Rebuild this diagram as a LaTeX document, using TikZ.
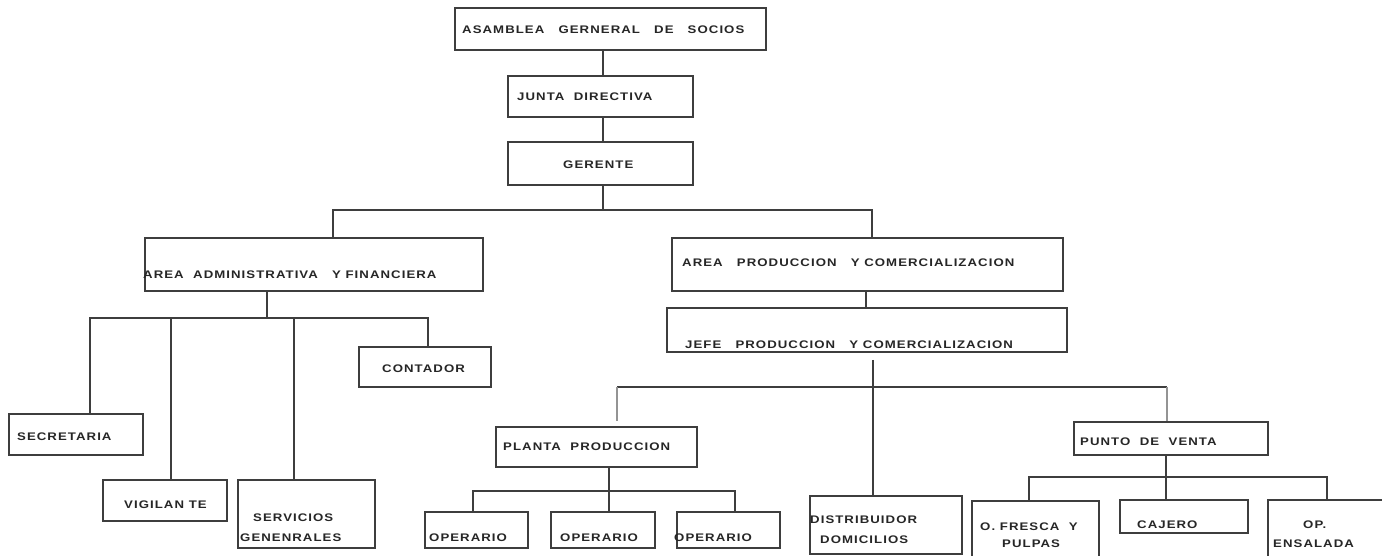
\documentclass[tikz,border=0pt]{standalone}
\usepackage{graphicx}
\usepackage{fontspec}
\setmainfont{Liberation Sans}
\newfontfamily\cajafont[LetterSpace=8]{Liberation Sans}
\newcommand{\ancho}[1]{\scalebox{1.2}[1]{#1}}
\definecolor{linea}{RGB}{62,62,62}
\tikzset{
	caja/.style={draw=linea, line width=1.6pt, rectangle, inner sep=0pt},
	rotulo/.style={anchor=base west, inner sep=0pt, text=black!85, font=\cajafont\bfseries\fontsize{11}{12}\selectfont},
	rama/.style={draw=linea, line width=1.6pt},
	ramagris/.style={draw=black!42, line width=1.6pt}
}

\begin{document}
\begin{tikzpicture}[x=1pt, y=-1pt]
			\useasboundingbox (0,0) rectangle (1382,556);
			\clip (0,0) rectangle (1382,556);
			% cajas
			\node[caja, minimum width=311pt, minimum height=42pt] (asamblea) at (610.5,29) {};
			\node[caja, minimum width=185pt, minimum height=41pt] (junta) at (600.5,96.5) {};
			\node[caja, minimum width=185pt, minimum height=43pt] (gerente) at (600.5,163.5) {};
			\node[caja, minimum width=338pt, minimum height=53pt] (administrativa) at (314,264.5) {};
			\node[caja, minimum width=391pt, minimum height=53pt] (produccion) at (867.5,264.5) {};
			\node[caja, minimum width=400pt, minimum height=44pt] (jefe) at (867,330) {};
			\node[caja, minimum width=132pt, minimum height=40pt] (contador) at (425,367) {};
			\node[caja, minimum width=134pt, minimum height=41pt] (secretaria) at (76,434.5) {};
			\node[caja, minimum width=124pt, minimum height=41pt] (vigilante) at (165,500.5) {};
			\node[caja, minimum width=137pt, minimum height=68pt] (servicios) at (306.5,514) {};
			\node[caja, minimum width=201pt, minimum height=40pt] (planta) at (596.5,447) {};
			\node[caja, minimum width=103pt, minimum height=36pt] (operario1) at (476.5,530) {};
			\node[caja, minimum width=104pt, minimum height=36pt] (operario2) at (603,530) {};
			\node[caja, minimum width=103pt, minimum height=36pt] (operario3) at (728.5,530) {};
			\node[caja, minimum width=152pt, minimum height=58pt] (distribuidor) at (886,525) {};
			\node[caja, minimum width=194pt, minimum height=33pt] (punto) at (1171,438.5) {};
			\node[caja, minimum width=127pt, minimum height=71pt] (fresca) at (1035.5,536.5) {};
			\node[caja, minimum width=128pt, minimum height=33pt] (cajero) at (1184,516.5) {};
			\node[caja, minimum width=132pt, minimum height=72pt] (ensalada) at (1334,536) {};
			% textos
			\node[rotulo] (tasamblea) at (462,34) {\ancho{ASAMBLEA\ \ \ GERNERAL\ \ \ DE\ \ \ SOCIOS}};
			\node[rotulo] (tjunta) at (517,101) {\ancho{JUNTA\ \ DIRECTIVA}};
			\node[rotulo] (tgerente) at (563,169) {\ancho{GERENTE}};
			\node[rotulo] (tadministrativa) at (143,279) {\ancho{AREA\ \ ADMINISTRATIVA\ \ \ Y FINANCIERA}};
			\node[rotulo] (tproduccion) at (682,267) {\ancho{AREA\ \ \ PRODUCCION\ \ \ Y COMERCIALIZACION}};
			\node[rotulo] (tjefe) at (685,348) {\ancho{JEFE\ \ \ PRODUCCION\ \ \ Y COMERCIALIZACION}};
			\node[rotulo] (tcontador) at (382,372) {\ancho{CONTADOR}};
			\node[rotulo] (tsecretaria) at (17,440) {\ancho{SECRETARIA}};
			\node[rotulo] (tvigilante) at (124,508) {\ancho{VIGILAN TE}};
			\node[rotulo] (tservicios) at (253,521) {\ancho{SERVICIOS}};
			\node[rotulo] (tgenerales) at (240,541) {\ancho{GENENRALES}};
			\node[rotulo] (tplanta) at (503,450) {\ancho{PLANTA\ \ PRODUCCION}};
			\node[rotulo] (toperario1) at (429,541) {\ancho{OPERARIO}};
			\node[rotulo] (toperario2) at (560,541) {\ancho{OPERARIO}};
			\node[rotulo] (toperario3) at (674,541) {\ancho{OPERARIO}};
			\node[rotulo] (tdistribuidor) at (810,523) {\ancho{DISTRIBUIDOR}};
			\node[rotulo] (tdomicilios) at (820,543) {\ancho{DOMICILIOS}};
			\node[rotulo] (tpunto) at (1080,445) {\ancho{PUNTO\ \ DE\ \ VENTA}};
			\node[rotulo] (tfresca) at (980,530) {\ancho{O. FRESCA\ \ Y}};
			\node[rotulo] (tpulpas) at (1002,547) {\ancho{PULPAS}};
			\node[rotulo] (tcajero) at (1137,528) {\ancho{CAJERO}};
			\node[rotulo] (top) at (1303,528) {\ancho{OP.}};
			\node[rotulo] (tensalada) at (1273,547) {\ancho{ENSALADA}};
			% ramas
			\coordinate (b1) at (603,210);
			\coordinate (b1i) at (333,210);
			\coordinate (b1d) at (872,210);
			\coordinate (b2) at (267,318);
			\coordinate (b2i) at (90,318);
			\coordinate (b2v) at (171,318);
			\coordinate (b2s) at (294,318);
			\coordinate (b2d) at (428,318);
			\coordinate (b3) at (866,300);
			\coordinate (b4) at (873,387);
			\coordinate (b4i) at (617,387);
			\coordinate (b4d) at (1167,387);
			\coordinate (b5) at (609,491);
			\coordinate (b5i) at (473,491);
			\coordinate (b5d) at (735,491);
			\coordinate (b6) at (1166,477);
			\coordinate (b6i) at (1029,477);
			\coordinate (b6d) at (1327,477);
			\draw[rama] (asamblea.south -| b1) -- (junta.north -| b1);
			\draw[rama] (junta.south -| b1) -- (gerente.north -| b1);
			\draw[rama] (gerente.south -| b1) -- (b1);
			\draw[rama] (administrativa.north -| b1i) |- (b1d) -- (produccion.north -| b1d);
			\draw[rama] (administrativa.south -| b2) -- (b2);
			\draw[rama] (secretaria.north -| b2i) |- (b2d) -- (contador.north -| b2d);
			\draw[rama] (b2v) -- (vigilante.north -| b2v);
			\draw[rama] (b2s) -- (servicios.north -| b2s);
			\draw[rama] (produccion.south -| b3) -- (jefe.north -| b3);
			\draw[rama] ([yshift=-7pt]jefe.south -| b4) -- (distribuidor.north -| b4);
			\draw[rama] (b4i) -- (b4d);
			\draw[ramagris] (b4i) -- ([yshift=5pt]planta.north -| b4i);
			\draw[ramagris] (b4d) -- (punto.north -| b4d);
			\draw[rama] (planta.south -| b5) -- (operario2.north -| b5);
			\draw[rama] (operario1.north -| b5i) |- (b5d) -- (operario3.north -| b5d);
			\draw[rama] (punto.south -| b6) -- (cajero.north -| b6);
			\draw[rama] (fresca.north -| b6i) |- (b6d) -- (ensalada.north -| b6d);
		\end{tikzpicture}
\end{document}
